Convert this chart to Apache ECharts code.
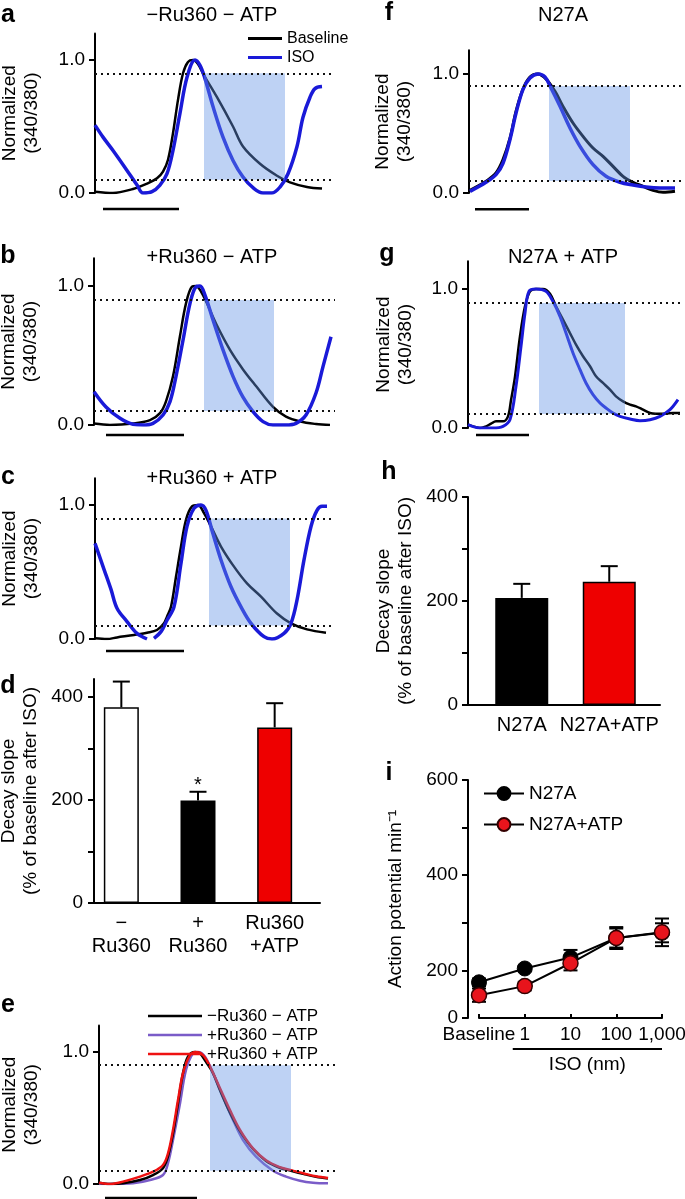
<!DOCTYPE html>
<html><head><meta charset="utf-8">
<script src="https://cdn.jsdelivr.net/npm/echarts@6/dist/echarts.min.js"></script>
<style>html,body{margin:0;padding:0;background:#fff}#c{width:685px;height:1199px}</style>
</head><body><div id="c"></div>
<script>
const FONT = "'Liberation Sans', Arial, Helvetica, sans-serif";

// ---- trace data (x: arbitrary time units, y: normalized 340/380) ----
const aBaseline = [[0,0.01],[18,0],[38,0.03],[52,0.07],[62,0.11],[68,0.16],[73,0.25],[78,0.45],[83,0.70],[88,0.90],[93,0.985],[98,1.0],[103,0.97],[109,0.885],[122,0.72],[138,0.5],[148,0.35],[165,0.22],[182,0.13],[195,0.08],[212,0.045],[227,0.033]];
const aISO = [[0,0.51],[8,0.42],[18,0.32],[32,0.17],[42,0.06],[48,0.0],[57,0.01],[65,0.06],[72,0.145],[78,0.32],[85,0.6],[92,0.87],[100,1.0],[105,0.96],[110,0.86],[118,0.65],[128,0.42],[138,0.245],[148,0.12],[158,0.04],[168,0.0],[177,0.0],[185,0.045],[193,0.145],[202,0.35],[208,0.57],[215,0.72],[220,0.785],[227,0.8]];
const bBaseline = [[0,0.01],[16,0],[39,0.01],[56,0.035],[66,0.085],[72,0.17],[79,0.35],[86,0.64],[92,0.875],[98,0.995],[102,1.0],[107,0.96],[112,0.89],[122,0.73],[136,0.54],[149,0.4],[162,0.28],[179,0.13],[192,0.06],[206,0.025],[222,0.007],[236,0.0]];
const bISO = [[0,0.24],[12,0.13],[26,0.048],[39,0.005],[49,0],[59,0.012],[69,0.072],[76,0.168],[82,0.35],[89,0.61],[96,0.875],[102,0.995],[106,1.0],[111,0.935],[119,0.755],[129,0.54],[139,0.35],[149,0.2],[159,0.096],[169,0.024],[179,0],[192,0],[202,0.012],[212,0.072],[222,0.23],[229,0.42],[237,0.635]];
const cBaseline = [[0,0.005],[12,0],[22,0.012],[39,0.03],[52,0.047],[62,0.067],[69,0.117],[72,0.167],[76,0.24],[81,0.465],[86,0.69],[91,0.89],[97,0.99],[103,1.0],[109,0.94],[116,0.84],[126,0.69],[139,0.54],[152,0.415],[166,0.316],[182,0.19],[196,0.117],[212,0.072],[231,0.047]];
const cISO = [[0,0.714],[9,0.52],[16,0.37],[22,0.23],[32,0.13],[42,0.042],[52,0],[55.5,null],[59,0.005],[66,0.055],[72,0.14],[79,0.24],[86,0.565],[92,0.84],[99,0.975],[106,1.0],[111,0.96],[117,0.81],[126,0.59],[136,0.39],[146,0.24],[156,0.117],[169,0.017],[177,0],[189,0.042],[196,0.117],[202,0.29],[209,0.59],[216,0.84],[222,0.96],[227,0.99],[232,0.99]];
const eMinusMinus = [[0,0.01],[11,0],[24,0.005],[41,0.03],[54,0.068],[64,0.12],[69,0.21],[74,0.38],[79,0.61],[84,0.84],[89,0.965],[96,1.0],[101,0.99],[107,0.925],[114,0.84],[121,0.71],[131,0.54],[141,0.4],[154,0.265],[167,0.175],[180,0.125],[192,0.1],[205,0.075],[217,0.055],[229,0.042]];
const ePlusMinus = [[0,0],[11,0],[34,0.005],[51,0.03],[64,0.068],[69,0.157],[74,0.333],[81,0.61],[87,0.864],[94,0.99],[99,1.0],[106,0.965],[114,0.84],[124,0.66],[134,0.485],[144,0.333],[157,0.207],[174,0.1],[187,0.056],[201,0.025],[214,0.01],[229,0.005]];
const ePlusPlus = [[0,0.01],[11,0],[24,0.018],[41,0.056],[54,0.093],[64,0.144],[69,0.232],[74,0.41],[79,0.636],[84,0.84],[91,0.977],[97,1.0],[104,0.977],[111,0.89],[121,0.725],[131,0.56],[141,0.41],[154,0.27],[167,0.18],[180,0.13],[192,0.105],[205,0.08],[217,0.058],[229,0.045]];
const fBaseline = [[1,0.022],[17,0.098],[27,0.168],[34,0.28],[41,0.46],[47,0.686],[54,0.874],[61,0.975],[69,1.0],[77,0.958],[86,0.854],[94,0.728],[104,0.588],[114,0.476],[124,0.378],[134,0.308],[144,0.224],[154,0.14],[164,0.09],[174,0.056],[184,0.022],[194,0.006],[206,0.014]];
const fISO = [[1,0.014],[17,0.09],[27,0.154],[34,0.25],[41,0.45],[47,0.67],[54,0.87],[61,0.966],[69,1.0],[76,0.975],[82,0.882],[91,0.728],[101,0.546],[111,0.392],[124,0.238],[137,0.14],[151,0.09],[164,0.067],[177,0.05],[191,0.042],[206,0.042]];
const gBaseline = [[0,0.024],[5,0.012],[12,0],[18,0.012],[23,0.031],[28,0.048],[35,0.048],[40,0.084],[43,0.2],[47,0.37],[52,0.66],[57,0.875],[62,0.983],[68,1.0],[75,1.0],[82,0.966],[88,0.875],[95,0.78],[102,0.683],[108,0.6],[115,0.516],[122,0.444],[128,0.372],[135,0.324],[142,0.276],[148,0.228],[155,0.192],[162,0.168],[168,0.156],[175,0.132],[182,0.108],[188,0.103],[197,0.103],[205,0.108],[212,0.108]];
const gISO = [[0,0.024],[12,0],[25,0],[35,0.012],[42,0.06],[48,0.3],[53,0.588],[57,0.827],[61,0.983],[68,1.0],[78,0.983],[85,0.91],[92,0.803],[98,0.683],[105,0.54],[112,0.42],[118,0.324],[125,0.24],[132,0.18],[138,0.144],[145,0.108],[152,0.084],[162,0.065],[172,0.053],[182,0.06],[192,0.084],[202,0.132],[210,0.204]];

// shaded decay windows and scale bars (same time units)
const aShade = [109,190], bShade = [110,180], cShade = [114,195], eShade = [111,192], fShade = [80,161], gShade = [71,157];
const aBar = [[8,-0.12],[84,-0.12]], bBar = [[12,-0.072],[90,-0.072]], cBar = [[11,-0.09],[89,-0.09]];
const eBar = [[6,-0.106],[98,-0.106]], fBar = [[6,-0.137],[60,-0.137]], gBar = [[8,-0.05],[61,-0.05]];

// ---- bar data ----
const dCats = ['\u2212\nRu360', '+\nRu360', 'Ru360\n+ATP'];
const dMeans = [380, 199, 341];
const dErr = [50, 17, 47];
const dSig = ['', '*', ''];
const dColors = ['#ffffff', '#000000', '#ee0000'];
const hCats = ['N27A', 'N27A+ATP'];
const hMeans = [206, 237];
const hErr = [27, 30];
const hColors = ['#000000', '#ee0000'];

// ---- panel i ----
const iCats = ['Baseline', '1', '10', '100', '1,000'];
const iN27A = [175, 204, 227, 268, 279];
const iN27AErr = [8, 6, 16, 20, 20];
const iATP = [148, 167, 215, 268, 280];
const iATPErr = [14, 9, 15, 23, 29];

const BLUE = '#1a1ad8';
const PURPLE = '#7a5cc8';
const RED = '#ee1111';

const grids = [
  {left:95, top:33.4, width:240, height:159.6},
  {left:94, top:258.2, width:241, height:166.8},
  {left:95, top:478.2, width:240, height:160.8},
  {left:94, top:679, width:226, height:224},
  {left:83, top:679, width:230, height:224},
  {left:99, top:1025.6, width:237, height:158.4},
  {left:469, top:50.2, width:214, height:142.8},
  {left:468, top:261.2, width:215, height:166.8},
  {left:468, top:497, width:192, height:208},
  {left:478, top:497, width:175, height:208},
  {left:479, top:780, width:183, height:238}
].map(g => Object.assign({containLabel:false, outerBoundsMode:'none'}, g));

const axLine = {show:true, onZero:false, lineStyle:{color:'#000', width:2}};
const lbl = (o) => Object.assign({color:'#000', fontSize:19, fontFamily:FONT}, o);

function traceY(g, gap) {
  return {gridIndex:g, type:'value', min:0, max:1.2, axisLine:axLine,
    axisTick:{show:true, customValues:[0,1], length:6, lineStyle:{color:'#000', width:2}},
    axisLabel:lbl({customValues:[0,1], formatter:v => Number(v).toFixed(1), margin:10}),
    splitLine:{show:false},
    name:'Normalized\n(340/380)', nameLocation:'middle', nameGap:gap,
    nameTextStyle:{color:'#000', fontSize:19, lineHeight:22, fontFamily:FONT}};
}
function hiddenX(g, max) { return {gridIndex:g, type:'value', min:0, max:max, show:false}; }

const xAxis = [
  hiddenX(0, 240), hiddenX(1, 241), hiddenX(2, 240),
  {gridIndex:3, type:'value', min:0, max:1, axisLine:axLine, axisTick:{show:false}, axisLabel:{show:false}, splitLine:{show:false}},
  {gridIndex:4, type:'category', data:dCats, axisLine:{show:false}, axisTick:{show:false}, axisLabel:lbl({fontSize:20, lineHeight:23, margin:9, interval:0, hideOverlap:false})},
  hiddenX(5, 237), hiddenX(6, 214), hiddenX(7, 215),
  {gridIndex:8, type:'value', min:0, max:1, axisLine:axLine, axisTick:{show:false}, axisLabel:{show:false}, splitLine:{show:false}},
  {gridIndex:9, type:'category', data:hCats, axisLine:{show:false}, axisTick:{show:false}, axisLabel:lbl({fontSize:20, margin:10, interval:0, hideOverlap:false})},
  {gridIndex:10, type:'category', data:iCats, boundaryGap:false, axisLine:axLine,
    axisTick:{show:true, inside:true, length:4, alignWithLabel:true, lineStyle:{color:'#000', width:2}},
    axisLabel:lbl({margin:7, interval:0, hideOverlap:false})}
];

const decayName = {name:'Decay slope\n(% of baseline after ISO)', nameLocation:'middle',
  nameTextStyle:{color:'#000', fontSize:19, lineHeight:22, fontFamily:FONT}};
const yAxis = [
  traceY(0, 52), traceY(1, 52), traceY(2, 52),
  Object.assign({gridIndex:3, type:'value', min:0, max:435, axisLine:axLine,
    axisTick:{show:true, customValues:[0,100,200,300,400], length:6, lineStyle:{color:'#000', width:2}},
    axisLabel:lbl({customValues:[0,200,400], margin:11}), splitLine:{show:false}, nameGap:52}, decayName),
  {gridIndex:4, type:'value', min:0, max:435, show:false},
  traceY(5, 56), traceY(6, 53), traceY(7, 51),
  Object.assign({gridIndex:8, type:'value', min:0, max:400, axisLine:axLine,
    axisTick:{show:true, customValues:[0,100,200,300,400], length:6, lineStyle:{color:'#000', width:2}},
    axisLabel:lbl({customValues:[0,200,400], margin:10}), splitLine:{show:false}, nameGap:51}, decayName),
  {gridIndex:9, type:'value', min:0, max:400, show:false},
  {gridIndex:10, type:'value', min:100, max:600, interval:100, offset:11, axisLine:axLine,
    axisTick:{show:true, length:6, lineStyle:{color:'#000', width:2}},
    axisLabel:lbl({customValues:[100,200,400,600], formatter:v => v === 100 ? '0' : String(v), margin:10}),
    splitLine:{show:false},
    name:'Action potential min\u207B\u00B9', nameLocation:'middle', nameGap:63,
    nameTextStyle:{color:'#000', fontSize:19, fontFamily:FONT}}
];

function trace(name, g, data, color, width, z) {
  return {type:'line', name:name, xAxisIndex:g, yAxisIndex:g, data:data, showSymbol:false, symbol:'none',
    smooth:0.35, connectNulls:false, lineStyle:{color:color, width:width}, itemStyle:{color:color}, z:z || 2};
}
function decor(g, shade, bar) {
  return [
    {type:'line', xAxisIndex:g, yAxisIndex:g, data:[], z:6, silent:true,
      markArea:{silent:true, z:6, itemStyle:{color:'rgba(100,148,228,0.42)'},
        data:[[{xAxis:shade[0], yAxis:0.1}, {xAxis:shade[1], yAxis:0.9}]]},
      markLine:{silent:true, z:6, symbol:['none','none'], label:{show:false},
        lineStyle:{type:[2,4], color:'#111', width:2}, emphasis:{disabled:true},
        data:[{yAxis:0.9}, {yAxis:0.1}]}},
    {type:'line', xAxisIndex:g, yAxisIndex:g, data:bar, clip:false, showSymbol:false, symbol:'none',
      lineStyle:{color:'#000', width:2.5}, z:4, silent:true}
  ];
}
function errSeries(g, means, errs, sig, capHalf, both) {
  return {type:'custom', xAxisIndex:g, yAxisIndex:g, z:both ? 3 : 4, silent:true,
    data: means.map((m, i) => [i, m, m + errs[i], m - errs[i]]),
    renderItem: (params, api) => {
      const top = api.coord([api.value(0), api.value(2)]);
      const bot = api.coord([api.value(0), both ? api.value(3) : api.value(1)]);
      const st = {stroke:'#000', lineWidth:2};
      const ch = [
        {type:'line', shape:{x1:top[0], y1:top[1], x2:bot[0], y2:bot[1]}, style:st},
        {type:'line', shape:{x1:top[0]-capHalf, y1:top[1], x2:top[0]+capHalf, y2:top[1]}, style:st}
      ];
      if (both) ch.push({type:'line', shape:{x1:bot[0]-capHalf, y1:bot[1], x2:bot[0]+capHalf, y2:bot[1]}, style:st});
      if (sig && sig[params.dataIndex]) ch.push({type:'text', x:top[0], y:top[1]+4,
        style:{text:sig[params.dataIndex], textAlign:'center', textVerticalAlign:'bottom', font:'20px ' + FONT, fill:'#000'}});
      return {type:'group', children:ch};
    }};
}

const series = [
  trace('Baseline', 0, aBaseline, '#000', 2.5), trace('ISO', 0, aISO, BLUE, 3.5), ...decor(0, aShade, aBar),
  trace('Baseline', 1, bBaseline, '#000', 2.5), trace('ISO', 1, bISO, BLUE, 3.5), ...decor(1, bShade, bBar),
  trace('Baseline', 2, cBaseline, '#000', 2.5), trace('ISO', 2, cISO, BLUE, 3.5), ...decor(2, cShade, cBar),
  {type:'bar', xAxisIndex:4, yAxisIndex:4, barWidth:35, z:2,
    data:dMeans.map((v, i) => ({value:v, itemStyle:{color:dColors[i], borderColor:'#000', borderWidth:1.5}}))},
  errSeries(4, dMeans, dErr, dSig, 8.5, false),
  trace('+Ru360 \u2212 ATP', 5, ePlusMinus, PURPLE, 2.5), trace('\u2212Ru360 \u2212 ATP', 5, eMinusMinus, '#000', 2.5),
  trace('+Ru360 + ATP', 5, ePlusPlus, RED, 2.5), ...decor(5, eShade, eBar),
  trace('Baseline', 6, fBaseline, '#000', 3), trace('ISO', 6, fISO, BLUE, 3.5), ...decor(6, fShade, fBar),
  trace('Baseline', 7, gBaseline, '#000', 2.5), trace('ISO', 7, gISO, BLUE, 3), ...decor(7, gShade, gBar),
  {type:'bar', xAxisIndex:9, yAxisIndex:9, barWidth:53, z:2,
    data:hMeans.map((v, i) => ({value:v, itemStyle:{color:hColors[i], borderColor:'#000', borderWidth:1.5}}))},
  errSeries(9, hMeans, hErr, null, 8.5, false),
  errSeries(10, iN27A, iN27AErr, null, 7, true),
  errSeries(10, iATP, iATPErr, null, 7, true),
  {type:'line', name:'N27A', xAxisIndex:10, yAxisIndex:10, data:iN27A, symbol:'circle', symbolSize:15, showSymbol:true,
    lineStyle:{color:'#000', width:2}, itemStyle:{color:'#000', borderColor:'#000', borderWidth:1}, z:5},
  {type:'line', name:'N27A+ATP', xAxisIndex:10, yAxisIndex:10, data:iATP, symbol:'circle', symbolSize:15, showSymbol:true,
    lineStyle:{color:'#000', width:2}, itemStyle:{color:'#e8141c', borderColor:'#300', borderWidth:1.5}, z:6}
];

const legendText = (fs, lh) => ({color:'#000', fontSize:fs, lineHeight:lh, fontFamily:FONT});
const legend = [
  {left:243, top:24, orient:'vertical', data:['Baseline','ISO'], icon:'rect', itemWidth:34, itemHeight:3, itemGap:0,
    textStyle:legendText(16, 19), selectedMode:false},
  {left:143, top:1002, orient:'vertical', data:['\u2212Ru360 \u2212 ATP','+Ru360 \u2212 ATP','+Ru360 + ATP'],
    icon:'rect', itemWidth:54, itemHeight:2.5, itemGap:1, textStyle:legendText(17, 18), selectedMode:false},
  {left:478, top:779, orient:'vertical', data:['N27A','N27A+ATP'], itemWidth:40, itemHeight:16, itemGap:12,
    textStyle:legendText(19, 16), selectedMode:false}
];

const letter = (t, x, y) => ({type:'text', x:x, y:y, style:{text:t, font:'bold 25px ' + FONT, fill:'#000', textAlign:'center', textVerticalAlign:'middle'}});
const title = (t, x, y) => ({type:'text', x:x, y:y, style:{text:t, font:'20px ' + FONT, fill:'#000', textAlign:'center', textVerticalAlign:'middle'}});

const chart = echarts.init(document.getElementById('c'), null, {renderer:'canvas'});
chart.setOption({
  animation:false,
  backgroundColor:'#fff',
  textStyle:{fontFamily:FONT},
  grid:grids, xAxis:xAxis, yAxis:yAxis, series:series, legend:legend
});

const p1 = chart.convertToPixel({xAxisIndex:10, yAxisIndex:10}, [1, 100]);
const p4 = chart.convertToPixel({xAxisIndex:10, yAxisIndex:10}, [4, 100]);
chart.setOption({graphic:[
  letter('a', 8, 15), letter('b', 8, 256), letter('c', 8, 477), letter('d', 8, 686), letter('e', 8, 1005),
  letter('f', 389, 13), letter('g', 387, 254), letter('h', 389, 472), letter('i', 389, 773),
  title('\u2212Ru360 \u2212 ATP', 212, 15), title('+Ru360 \u2212 ATP', 212, 257), title('+Ru360 + ATP', 212, 478),
  title('N27A', 563, 15), title('N27A + ATP', 563, 257),
  {type:'line', shape:{x1:p1[0]-12, y1:p1[1]+31, x2:p4[0], y2:p4[1]+31}, style:{stroke:'#000', lineWidth:2}},
  {type:'text', x:(p1[0]-12+p4[0])/2, y:p1[1]+47, style:{text:'ISO (nm)', font:'19px ' + FONT, fill:'#000', textAlign:'center', textVerticalAlign:'middle'}}
]});
</script>
</body></html>
